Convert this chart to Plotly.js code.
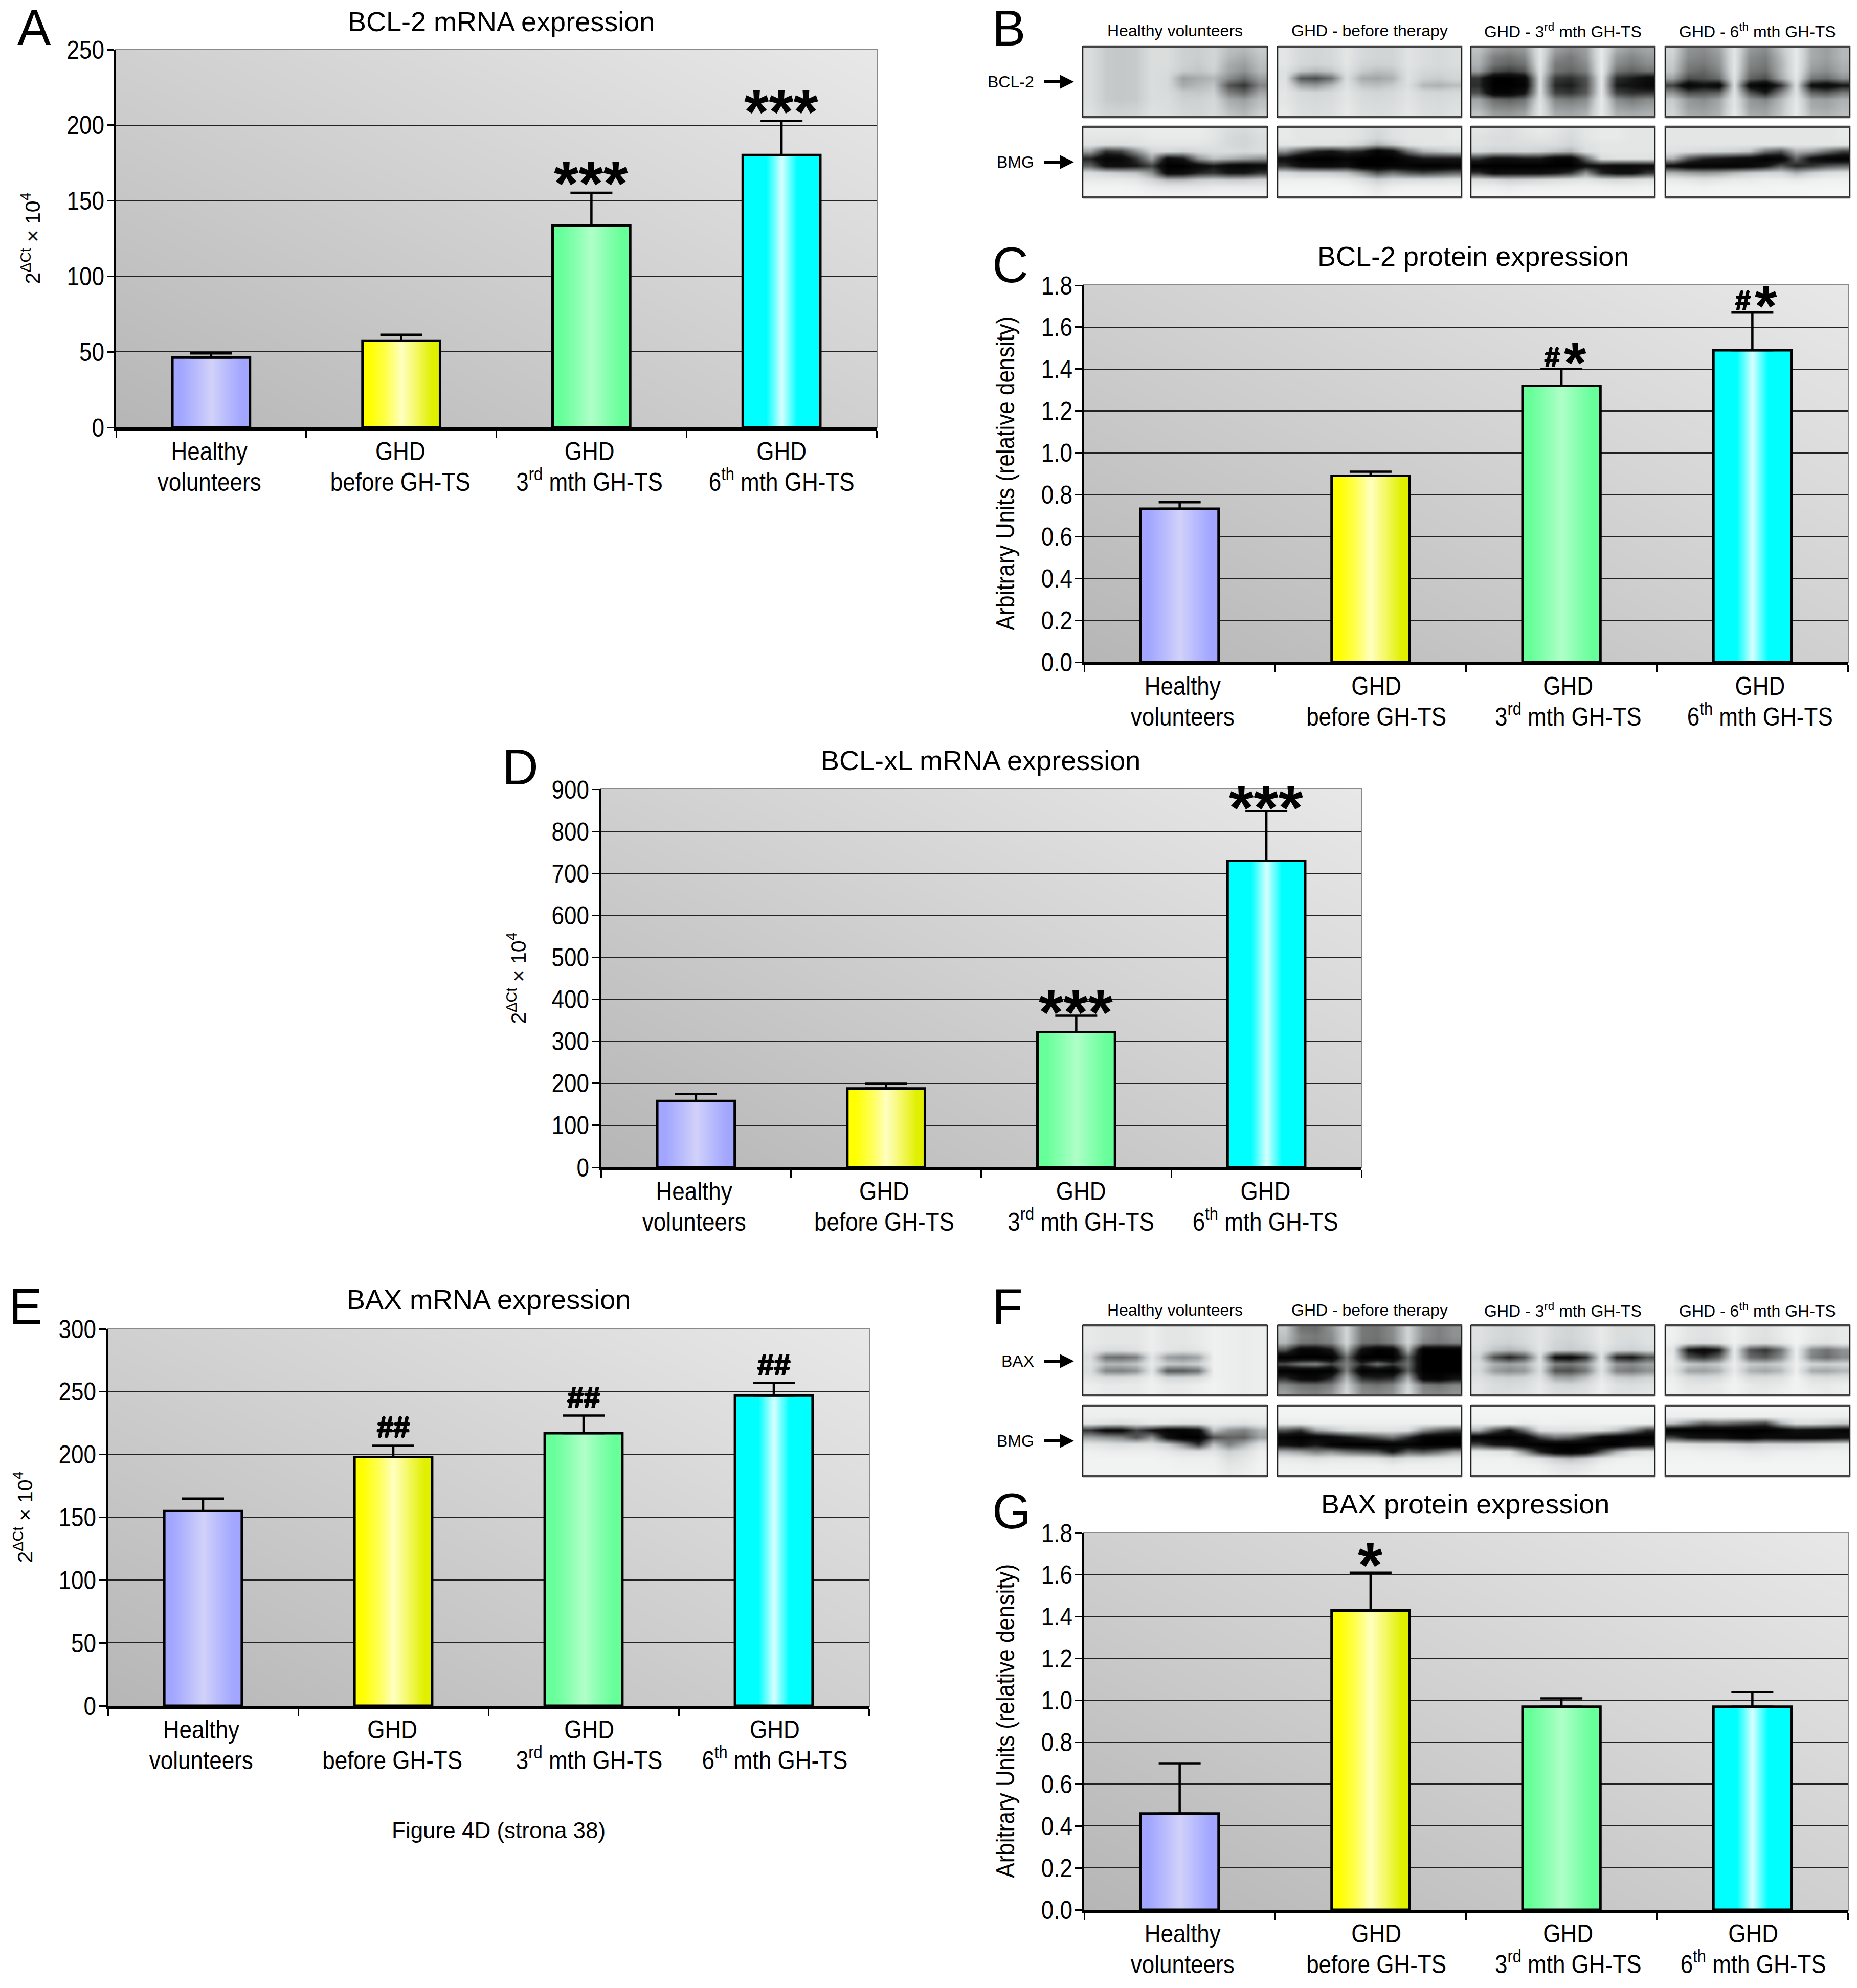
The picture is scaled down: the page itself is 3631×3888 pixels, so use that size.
<!DOCTYPE html>
<html><head><meta charset="utf-8">
<script src="https://cdn.plot.ly/plotly-3.0.1.min.js"></script>
<style>html,body{margin:0;padding:0;background:#fff}</style></head>
<body><div id="chart" style="width:3631px;height:3888px"></div>
<script>
var line1 = ['Healthy','GHD','GHD','GHD'];
var line2 = ['volunteers','before GH-TS','3<sup>rd</sup> mth GH-TS','6<sup>th</sup> mth GH-TS'];

var aMean = [46.3,57.4,133.5,180.2], aUpper = [49,61.3,155.3,202.7];
var cMean = [0.733,0.89,1.32,1.49], cUpper = [0.764,0.91,1.40,1.67];
var dMean = [158,188,322,730], dUpper = [175,199,361,848];
var eMean = [155,198,217,247], eUpper = [165,207,231,257];
var gMean = [0.46,1.43,0.97,0.97], gUpper = [0.70,1.61,1.01,1.04];

var aTitle='BCL-2 mRNA expression', cTitle='BCL-2 protein expression', dTitle='BCL-xL mRNA expression', eTitle='BAX mRNA expression', gTitle='BAX protein expression';
var mrnaLabel='2<sup>ΔCt</sup> × 10<sup>4</sup>', proteinLabel='Arbitrary Units (relative density)';
var blotHeads=['Healthy volunteers','GHD - before therapy','GHD - 3<sup>rd</sup> mth GH-TS','GHD - 6<sup>th</sup> mth GH-TS'];

var barStops = [
 ['#a2a6ff','#b8bbfc','#d2d2fa','#b8bbfc','#a2a6ff'],
 ['#ffff00','#ffff50','#ffffc0','#f4f860','#e0f000'],
 ['#66ff99','#88ffb0','#b0ffc8','#88ffb0','#66ff99'],
 ['#00ffff','#00ffff','#d8ffff','#00ffff','#00ffff']
];

var bclBlot1=[[14,22,23,22,14,14,20,21,18,26,28,22],[14,22,23,22,14,14,20,21,18,28,32,24],[14,22,23,22,14,14,20,22,18,32,36,26],[14,22,23,22,14,15,22,24,20,34,40,28],[14,22,23,22,14,16,36,32,28,42,52,36],[14,22,23,22,14,16,32,28,24,60,70,44],[14,22,23,22,14,15,22,23,20,46,54,34],[14,22,23,22,14,14,20,20,17,32,36,26],[13,20,21,20,13,14,18,19,16,28,32,24],[12,18,19,18,12,13,17,18,15,24,28,20]];
var bclBlot2=[[10,16,18,16,10,16,18,18,11,14,16,14],[10,16,18,16,10,16,18,18,11,14,16,14],[10,17,19,17,10,18,20,19,11,14,16,14],[12,24,28,24,12,22,26,24,12,17,18,16],[12,58,62,50,14,32,34,30,12,20,22,18],[11,34,38,28,12,24,26,22,13,28,30,26],[10,16,18,16,10,16,18,16,11,17,18,16],[10,15,16,15,10,15,16,15,11,15,16,14],[9,14,15,14,9,14,15,14,10,14,15,13],[8,13,14,13,8,13,14,13,9,13,14,12]];
var bclBlot3=[[25,38,42,38,10,36,42,36,8,32,38,34],[28,46,50,44,10,42,48,38,8,38,44,38],[30,50,55,50,10,48,50,42,8,42,48,42],[36,62,68,60,12,50,55,46,8,50,56,50],[70,100,100,92,14,68,72,60,10,72,78,88],[72,100,100,96,14,74,78,62,10,78,82,92],[62,96,96,82,14,66,70,58,10,66,72,70],[34,52,56,50,12,44,48,42,8,42,48,42],[30,44,46,42,10,38,40,36,8,36,40,36],[24,36,38,34,10,32,34,30,8,30,32,30]];
var bclBlot4=[[18,40,42,35,10,38,42,25,8,32,36,28],[20,42,45,38,10,42,46,28,8,32,36,28],[22,46,48,40,10,44,48,30,8,34,38,30],[24,50,54,44,10,48,52,30,8,38,42,32],[35,62,60,52,12,55,62,34,10,48,52,40],[65,95,85,92,14,90,100,70,14,85,92,80],[40,62,60,56,12,60,78,44,12,55,60,48],[22,38,42,34,10,38,44,28,9,34,36,30],[20,36,38,32,10,36,38,26,8,32,34,28],[18,32,34,30,8,32,34,24,8,28,30,26]];
var bmgBlot1=[[8,8,8,8,7,7,7,7,10,14,16,12],[10,10,10,10,8,8,8,8,10,16,18,14],[12,14,14,12,10,10,10,10,12,16,18,14],[35,70,65,40,18,16,20,16,14,14,16,14],[75,96,92,70,35,88,80,40,25,30,35,40],[55,85,85,80,65,100,100,90,80,92,95,90],[14,18,22,25,40,90,88,75,70,80,80,70],[8,8,8,10,18,28,28,22,20,22,22,18],[4,4,4,5,8,10,10,10,8,8,8,8],[3,3,3,3,4,5,5,5,4,4,4,4]];
var bmgBlot2=[[8,10,10,10,10,12,16,12,10,10,10,8],[8,10,10,10,10,12,18,12,10,10,10,8],[10,10,12,12,14,20,30,22,12,10,10,10],[40,60,75,80,70,75,96,85,50,30,25,20],[85,100,100,100,95,100,100,100,90,80,80,80],[70,85,90,90,85,100,100,96,96,100,100,96],[15,20,20,22,25,40,60,50,60,65,60,55],[6,6,6,6,8,12,20,15,14,14,14,12],[3,3,3,3,3,6,10,6,5,5,5,5],[2,2,2,2,2,3,6,3,3,3,3,3]];
var bmgBlot3=[[10,12,14,10,8,10,14,10,8,8,10,10],[12,14,14,12,10,12,16,10,8,8,10,10],[12,14,14,14,14,14,18,12,10,10,10,10],[16,20,20,18,20,25,30,14,10,10,10,10],[70,85,85,80,80,96,96,55,15,12,12,12],[100,100,100,100,100,100,100,85,85,90,90,88],[70,88,85,85,85,80,70,40,75,85,85,70],[14,16,20,18,16,14,12,10,14,16,14,12],[6,6,8,6,6,6,5,5,5,6,6,5],[3,3,4,3,3,3,3,3,3,3,3,3]];
var bmgBlot4=[[10,10,10,10,10,10,10,10,10,10,10,8],[10,10,10,10,10,10,10,10,10,10,10,8],[10,10,10,10,10,10,10,10,10,10,10,10],[12,14,16,18,20,25,50,60,30,35,50,65],[30,60,75,80,85,90,100,96,55,85,96,98],[85,96,96,96,96,92,82,60,75,70,60,55],[30,35,38,35,28,22,18,18,30,20,14,12],[8,10,12,10,8,8,6,6,8,6,5,5],[4,4,5,4,4,4,4,3,3,3,3,3],[3,3,3,3,3,3,3,3,3,2,2,2]];
var baxBlot1=[[8,10,10,10,6,10,10,8,5,6,7,6],[8,10,10,10,6,10,10,8,5,6,7,6],[8,10,10,10,6,10,10,8,5,6,7,6],[10,14,14,12,6,10,12,10,5,6,7,6],[14,50,52,46,10,36,40,34,5,6,7,6],[12,28,28,24,8,22,24,20,5,6,7,6],[14,44,46,40,10,58,58,50,5,6,7,6],[10,14,14,12,6,16,16,14,5,6,7,6],[6,8,8,8,5,8,8,6,4,6,7,6],[6,8,8,8,5,8,8,6,4,6,7,6]];
var baxBlot2=[[22,50,52,40,18,48,50,42,18,40,46,40],[25,45,48,42,18,48,50,42,18,40,46,40],[28,48,50,44,18,50,52,44,18,44,48,44],[60,95,95,80,30,85,100,96,30,100,100,100],[100,100,100,100,50,100,100,100,55,100,100,100],[62,48,44,64,45,72,50,68,50,100,100,100],[100,100,100,100,45,100,96,100,55,100,100,100],[72,90,92,72,28,72,76,72,30,92,96,84],[42,50,52,46,20,46,50,44,18,46,50,44],[36,44,46,40,18,42,44,40,16,42,44,40]];
var baxBlot3=[[12,16,18,15,10,16,18,14,8,14,14,12],[12,16,18,15,10,16,18,14,8,14,14,12],[12,18,20,16,10,18,20,15,8,14,16,12],[14,24,28,24,10,20,22,20,10,18,20,16],[18,60,75,60,14,85,88,70,12,75,80,60],[14,30,35,30,12,45,48,38,10,38,42,34],[16,36,42,38,14,60,62,48,12,45,48,40],[12,18,20,18,10,32,34,24,8,20,22,18],[10,14,16,14,8,16,18,14,6,12,14,12],[10,14,14,12,8,14,14,12,6,12,12,10]];
var baxBlot4=[[5,10,12,10,5,10,12,8,4,8,10,8],[5,10,12,10,5,10,12,8,4,8,10,8],[6,12,14,12,5,12,14,10,4,10,12,8],[10,80,92,78,8,60,70,50,6,42,50,40],[8,60,70,55,8,52,58,42,6,44,52,42],[8,22,26,22,6,22,24,20,5,18,20,18],[10,34,36,30,8,30,34,28,6,32,34,28],[6,14,16,14,5,14,14,12,4,12,14,12],[5,10,10,8,4,8,10,8,4,8,8,6],[5,8,8,8,4,8,8,6,4,6,8,6]];
var bmg2Blot1=[[5,5,5,5,5,5,5,5,5,5,5,5],[6,6,6,6,6,6,6,6,6,6,6,6],[10,12,14,12,8,10,12,12,8,10,12,8],[70,88,88,65,80,96,96,88,25,40,45,30],[35,40,45,60,40,85,100,100,60,55,55,35],[10,12,14,12,12,20,40,70,25,45,30,12],[5,6,6,6,6,8,12,12,10,20,14,6],[4,4,4,4,4,5,6,6,6,14,10,5],[4,4,4,4,4,4,5,5,5,10,8,4],[4,4,4,4,4,4,4,4,4,8,6,4]];
var bmg2Blot2=[[3,3,3,3,3,3,3,3,3,3,3,3],[4,4,4,4,4,4,4,4,4,4,4,4],[8,8,6,6,6,6,6,6,6,6,6,6],[60,70,35,25,14,14,12,12,14,40,55,65],[96,100,96,90,80,70,60,50,70,96,100,100],[85,92,80,96,100,100,100,96,96,100,100,100],[30,35,45,40,50,55,60,80,55,60,50,35],[8,10,12,10,10,10,12,18,12,12,10,8],[5,5,6,5,5,5,5,7,5,5,5,5],[4,4,4,4,4,4,4,4,4,4,4,4]];
var bmg2Blot3=[[3,3,3,3,3,3,3,3,3,3,3,3],[4,4,4,4,4,4,4,4,4,4,4,4],[6,6,6,8,5,5,6,6,5,5,5,6],[30,60,80,50,14,12,12,12,14,25,45,70],[96,100,100,95,65,50,55,70,90,96,100,100],[65,80,85,96,100,100,100,100,100,100,90,85],[8,10,12,40,75,95,100,92,60,30,14,10],[5,5,5,8,12,22,28,20,10,6,5,5],[4,4,4,5,6,10,12,10,5,4,4,4],[4,4,4,4,4,7,8,6,4,4,4,4]];
var bmg2Blot4=[[4,4,4,4,4,4,4,4,4,4,4,4],[6,6,6,6,6,6,6,6,6,6,6,6],[25,40,55,50,55,60,65,30,14,14,18,22],[100,100,100,100,100,100,100,95,85,88,90,95],[65,80,85,85,92,96,88,90,92,92,90,85],[10,12,14,14,16,20,16,16,16,14,12,10],[5,5,6,6,6,8,8,6,6,6,5,5],[4,4,4,4,4,5,5,4,4,4,4,4],[3,3,3,3,3,3,3,3,3,3,3,3],[3,3,3,3,3,3,3,3,3,3,3,3]];

var W=3631,H=3888,SANS='"Liberation Sans",Arial,sans-serif';
var NARROW_SIZE=50, NARROW_K=0.88;
var HEAVY='1.3px 0 0 #000,-1.3px 0 0 #000,0 1.3px 0 #000,0 -1.3px 0 #000';

var panels=[
 {letter:'A',lx:32,ly:54,box:[227,1714,97,836],ymax:250,dt:50,fmt:'',mean:aMean,upper:aUpper,title:aTitle,tx:980,ty:42,yt:mrnaLabel,ytx:60,lab:[0.49,1.495,2.49,3.50],
  marks:[[2,'***',-53],[3,'***',-53]]},
 {letter:'C',lx:1938,ly:518,box:[2120,3613,558,1295],ymax:1.8,dt:0.2,fmt:'.1f',mean:cMean,upper:cUpper,title:cTitle,tx:2880,ty:501,yt:proteinLabel,ytx:1965,lab:[0.515,1.53,2.535,3.54],
  marks:[[2,'#*',0],[3,'#*',0]]},
 {letter:'D',lx:980,ly:1500,box:[1175,2662,1544,2283],ymax:900,dt:100,fmt:'',mean:dMean,upper:dUpper,title:dTitle,tx:1917,ty:1487,yt:mrnaLabel,ytx:1010,lab:[0.49,1.49,2.525,3.495],
  marks:[[2,'***',-64],[3,'***',-64]]},
 {letter:'E',lx:15,ly:2555,box:[211,1699,2599,3336],ymax:300,dt:50,fmt:'',mean:eMean,upper:eUpper,title:eTitle,tx:955,ty:2541,yt:mrnaLabel,ytx:45,lab:[0.49,1.495,2.53,3.505],
  marks:[[1,'##',2],[2,'##',2],[3,'##',2]]},
 {letter:'G',lx:1938,ly:2955,box:[2120,3613,2998,3735],ymax:1.8,dt:0.2,fmt:'.1f',mean:gMean,upper:gUpper,title:gTitle,tx:2865,ty:2941,yt:proteinLabel,ytx:1965,lab:[0.515,1.53,2.535,3.505],
  marks:[[1,'*',-56]]}
];

var data=[],layout={width:W,height:H,autosize:false,margin:{l:0,r:0,t:0,b:0,pad:0},paper_bgcolor:'#fff',plot_bgcolor:'rgba(0,0,0,0)',showlegend:false,annotations:[],shapes:[]};
function ann(o){layout.annotations.push(Object.assign({xref:'x11',yref:'y11',showarrow:false,xanchor:'center',yanchor:'middle'},o));}
var gray=[[0,'#000'],[1,'#fff']];
panels.forEach(function(p,i){
 var n1=2*i+1,n2=2*i+2;
 var s1=n1===1?'':String(n1),s2=String(n2);
 var dx=[p.box[0]/W,p.box[1]/W],dy=[1-p.box[3]/H,1-p.box[2]/H];
 data.push({type:'heatmap',xaxis:'x'+s1,yaxis:'y'+s1,x:[0,4],y:[0,p.ymax],z:[[182,208],[208,232]],zmin:0,zmax:255,colorscale:gray,showscale:false,zsmooth:'best',hoverinfo:'skip'});
 layout['xaxis'+s1]={domain:dx,range:[0,4],anchor:'y'+s1,showgrid:false,zeroline:false,showline:true,mirror:true,linecolor:'#8a8a8a',linewidth:2,ticks:'',tickmode:'array',tickvals:p.lab,ticktext:line2,ticklabelstandoff:62,tickfont:{family:SANS,size:NARROW_SIZE,color:'#000'},automargin:false};
 layout['yaxis'+s1]={domain:dy,range:[0,p.ymax],anchor:'x'+s1,showgrid:false,zeroline:false,showline:true,mirror:true,linecolor:'#8a8a8a',linewidth:2,showticklabels:false,ticks:''};
 var w=0.408;
 p.mean.forEach(function(v,k){
  var c=barStops[k];
  var xs=[];for(var q=0;q<=5;q++)xs.push(k+0.5-w/2+w*q/5);
  var z=[0,.25,.5,.75,1];
  data.push({type:'heatmap',xaxis:'x'+s2,yaxis:'y'+s2,x:xs,y:[0,v/2,v],z:[z,z],zmin:0,zmax:1,zsmooth:'best',showscale:false,hoverinfo:'skip',
   colorscale:c.map(function(col,m){return [m/4,col];})});
 });
 data.push({type:'bar',xaxis:'x'+s2,yaxis:'y'+s2,x:[0.5,1.5,2.5,3.5],y:p.mean,width:w,marker:{color:'rgba(0,0,0,0)',line:{color:'#000',width:5}},
  error_y:{type:'data',symmetric:false,array:p.upper.map(function(u,k){return u-p.mean[k];}),arrayminus:[0,0,0,0],color:'#000',thickness:4.5,width:41},hoverinfo:'skip'});
 layout['xaxis'+s2]={domain:dx,range:[0,4],anchor:'y'+s2,showgrid:false,zeroline:false,showline:true,linecolor:'#000',linewidth:6,tickmode:'array',tickvals:p.lab,ticktext:line1,ticks:'',ticklabelstandoff:-2,tickfont:{family:SANS,size:NARROW_SIZE,color:'#000'},
  minor:{tickmode:'array',tickvals:[0,1,2,3,4],ticks:'outside',ticklen:14,tickwidth:3,tickcolor:'#000',showgrid:false}};
 layout['yaxis'+s2]={domain:dy,range:[0,p.ymax],anchor:'x'+s2,dtick:p.dt,tick0:0,tickformat:p.fmt,showgrid:true,gridcolor:'#222',gridwidth:2.5,zeroline:false,showline:true,linecolor:'#000',linewidth:4,ticks:'outside',ticklen:14,tickwidth:3,tickcolor:'#000',tickfont:{family:SANS,size:NARROW_SIZE,color:'#000'},ticklabelstandoff:-5};
 ann({text:p.letter,x:p.lx,y:p.ly,xanchor:'left',font:{family:SANS,size:98,color:'#000'}});
 ann({text:p.title,x:p.tx,y:p.ty,font:{family:SANS,size:54,color:'#000'}});
 ann({text:p.yt,x:p.ytx,y:(p.box[2]+p.box[3])/2,textangle:-90,font:{family:SANS,size:p.yt===mrnaLabel?41:NARROW_SIZE,color:'#000'}});
 p.marks.forEach(function(m){
  var k=m[0];
  function mark(txt,size,xshift,yshift,shadow){
   var f={family:SANS,size:size,color:'#000'};
   if(shadow)f.shadow=HEAVY;
   layout.annotations.push({xref:'x'+s2,yref:'y'+s2,x:k+0.5,y:p.upper[k],showarrow:false,xanchor:'center',yanchor:'bottom',text:'<b>'+txt+'</b>',xshift:xshift,yshift:yshift,font:f});
  }
  if(m[1]==='#*'){mark('#',54,-18,-8,true);mark('*',112,27,-52);}
  else if(m[1]==='##'){mark('##',58,0,m[2],true);}
  else{mark(m[1],124,0,m[2]);}
 });
});

layout.xaxis11={domain:[0,1],range:[0,W],anchor:'y11',visible:false,fixedrange:true};
layout.yaxis11={domain:[0,1],range:[H,0],anchor:'x11',visible:false,fixedrange:true};
var blotX=[[2117,2478],[2498,2858],[2876,3236],[3256,3617]];
function blot(z,col,y0,y1){
 var xb=blotX[col],dx=(xb[1]-xb[0])/z[0].length,dyy=(y1-y0)/z.length;
 data.push({type:'heatmap',xaxis:'x11',yaxis:'y11',x0:xb[0]+dx/2,dx:dx,y0:y0+dyy/2,dy:dyy,z:z,zmin:0,zmax:100,zsmooth:'best',showscale:false,hoverinfo:'skip',colorscale:[[0,'#fafafa'],[0.2,'#cdd1d1'],[0.8,'#141414'],[1,'#000']]});
 layout.shapes.push({type:'rect',xref:'x11',yref:'y11',x0:xb[0],x1:xb[1],y0:y0,y1:y1,line:{color:'#222',width:2.5},fillcolor:'rgba(0,0,0,0)'});
 [y0,y1].forEach(function(yy){layout.shapes.push({type:'line',xref:'x11',yref:'y11',x0:xb[0],x1:xb[1],y0:yy,y1:yy,line:{color:'#444',width:4.5}});});
}
[bclBlot1,bclBlot2,bclBlot3,bclBlot4].forEach(function(z,i){blot(z,i,91,229);});
[bmgBlot1,bmgBlot2,bmgBlot3,bmgBlot4].forEach(function(z,i){blot(z,i,248,386);});
[baxBlot1,baxBlot2,baxBlot3,baxBlot4].forEach(function(z,i){blot(z,i,2592,2729);});
[bmg2Blot1,bmg2Blot2,bmg2Blot3,bmg2Blot4].forEach(function(z,i){blot(z,i,2749,2887);});
function heads(y){blotHeads.forEach(function(t,i){ann({text:t,x:(blotX[i][0]+blotX[i][1])/2,y:y,font:{family:SANS,size:32,color:'#000'}});});}
heads(60);heads(2562);
function arrow(txt,y){
 ann({text:txt,x:2024,y:y,xanchor:'right',font:{family:SANS,size:32,color:'#000'}});
 layout.annotations.push({xref:'x11',yref:'y11',axref:'x11',ayref:'y11',x:2100,y:y,ax:2040,ay:y,showarrow:true,arrowhead:2,arrowsize:0.9,arrowwidth:6,arrowcolor:'#000',text:''});
}
arrow('BCL-2',160);arrow('BMG',317);arrow('BAX',2662);arrow('BMG',2818);
ann({text:'B',x:1938,y:55,xanchor:'left',font:{family:SANS,size:98,color:'#000'}});
ann({text:'F',x:1938,y:2555,xanchor:'left',font:{family:SANS,size:98,color:'#000'}});
ann({text:'Figure 4D (strona 38)',x:975,y:3579,font:{family:SANS,size:44,color:'#000'}});

Plotly.newPlot('chart',data,layout,{staticPlot:true,displayModeBar:false}).then(function(){
 // the reference's axis text is set in a condensed cut: condense the same real text
 document.querySelectorAll('#chart svg text').forEach(function(t){
  if(parseFloat(t.style.fontSize)===NARROW_SIZE){
   var L=t.getComputedTextLength();
   if(L>0){t.setAttribute('textLength',(L*NARROW_K).toFixed(1));t.setAttribute('lengthAdjust','spacingAndGlyphs');}
  }
 });
});
</script></body></html>
